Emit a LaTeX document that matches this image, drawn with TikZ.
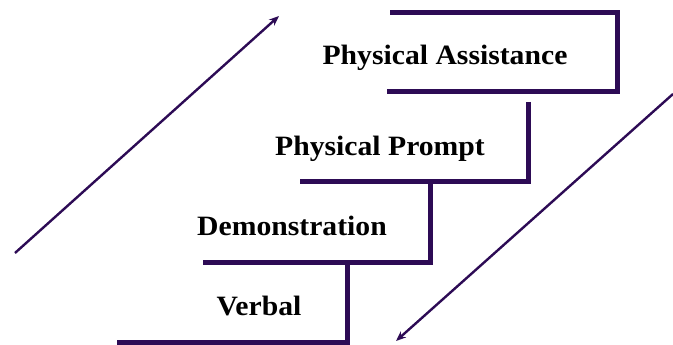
\documentclass[tikz,border=0pt]{standalone}
\usepackage{fontspec}
\setmainfont{Liberation Serif}[FakeStretch=1.06]
\usetikzlibrary{arrows.meta}
\definecolor{stepcol}{HTML}{2D0B55}
\begin{document}
\begin{tikzpicture}[x=1pt,y=-1pt,
  stepline/.style={draw=stepcol,line width=5pt,line cap=butt,line join=miter},
  dirarrow/.style={draw=stepcol,line width=2.4pt,-{Stealth[length=10pt,width=8pt]}},
  lbl/.style={anchor=base,inner sep=0pt,font=\fontsize{28}{30}\selectfont\bfseries,text=black}]
\useasboundingbox (0,0) rectangle (673,345);
% steps
\draw[stepline] (390,13) -- (617,13) -- (617,92) -- (387,92);
\draw[stepline] (528,102) -- (528,181) -- (300,181);
\draw[stepline] (430,181) -- (430,262) -- (203,262);
\draw[stepline] (347,262) -- (347,342.5) -- (117,342.5);
% labels
\node[lbl] (pa) at (445,65) {Physical Assistance};
\node[lbl] (pp) at (380,155) {Physical Prompt};
\node[lbl] (dm) at (292,235) {Demonstration};
\node[lbl] (vb) at (259,315) {Verbal};
% arrows
\coordinate (upS) at (15,253);
\coordinate (upE) at (279,16);
\coordinate (dnS) at (673,94);
\coordinate (dnE) at (396,341);
\draw[dirarrow] (upS) -- (upE);
\draw[dirarrow] (dnS) -- (dnE);
\end{tikzpicture}
\end{document}
